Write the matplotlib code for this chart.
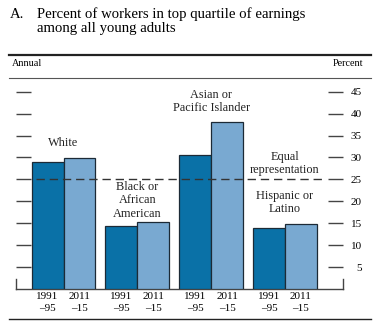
import matplotlib.pyplot as plt
import numpy as np
from matplotlib.lines import Line2D

plt.rcParams['font.family'] = ['Liberation Serif', 'DejaVu Serif']

groups = ['White', 'Black or\nAfrican\nAmerican', 'Asian or\nPacific Islander', 'Hispanic or\nLatino']
early = [28.9, 14.3, 30.5, 13.8]   # 1991-95
late = [29.9, 15.2, 38.2, 14.8]    # 2011-15
period_labels = ['1991\n\u201395', '2011\n\u201315']
equal_share = 25
yticks = [5, 10, 15, 20, 25, 30, 35, 40, 45]

dark = '#0a71a7'
light = '#79a9d1'

fig = plt.figure(figsize=(3.79, 3.26), dpi=100)
ax = fig.add_axes([0.0422, 0.1135, 0.8628, 0.6455])

centers = np.arange(len(groups)) * 2.3125
ax.bar(centers - 0.5, early, width=1, color=dark, edgecolor='#1c2a36', linewidth=0.9, zorder=3)
ax.bar(centers + 0.5, late, width=1, color=light, edgecolor='#1c2a36', linewidth=0.9, zorder=3)

# dashed reference line runs over the bars
ax.axhline(equal_share, xmin=0.061, xmax=0.936, color='#333333', linestyle=(0, (6, 3.5)),
           linewidth=1.0, zorder=4)

ax.set_xlim(-1.49, 8.76)
ax.set_ylim(0, 48)

# category labels above each pair
label_y = [33.3, 20.2, 42.8, 19.7]
for c, name, y in zip(centers, groups, label_y):
    ax.text(c, y, name, ha='center', va='center', fontsize=8.8, linespacing=1.12, color='#222222')
ax.text(centers[3], 28.6, 'Equal\nrepresentation', ha='center', va='center', fontsize=8.8,
        linespacing=1.12, color='#222222')

ax.set_xticks(np.concatenate([centers - 0.5, centers + 0.5]))
ax.set_xticklabels(period_labels[:1] * 4 + period_labels[1:] * 4, fontsize=8, linespacing=1.45)
ax.tick_params(axis='x', length=0, pad=2)

ax.set_yticks(yticks)
ax.yaxis.set_ticks_position('both')
ax.tick_params(axis='y', direction='in', length=10.5, width=1.0, color='#444444',
               labelleft=False, labelright=True, labelsize=8, pad=13.5)
for lab in ax.get_yticklabels():
    lab.set_horizontalalignment('right')

ax.spines['top'].set_visible(False)
ax.spines['left'].set_bounds(0, 2.3)
ax.spines['right'].set_bounds(0, 2.3)
for side in ['left', 'right', 'bottom']:
    ax.spines[side].set_color('#444444')
    ax.spines[side].set_linewidth(1.0)

# header and rules
fig.text(0.026, 0.945, 'A.', fontsize=10.6, va='baseline')
fig.text(0.098, 0.945, 'Percent of workers in top quartile of earnings', fontsize=10.6, va='baseline')
fig.text(0.098, 0.902, 'among all young adults', fontsize=10.6, va='baseline')
fig.text(0.032, 0.806, 'Annual', fontsize=7.3, va='center')
fig.text(0.958, 0.806, 'Percent', fontsize=7.3, va='center', ha='right')
fig.add_artist(Line2D([0.024, 0.979], [0.831, 0.831], color='#222222', linewidth=1.6))
fig.add_artist(Line2D([0.024, 0.979], [0.761, 0.761], color='#555555', linewidth=0.8))
fig.add_artist(Line2D([0.024, 0.979], [0.021, 0.021], color='#222222', linewidth=1.0))

fig.savefig('out.png', dpi=100)
